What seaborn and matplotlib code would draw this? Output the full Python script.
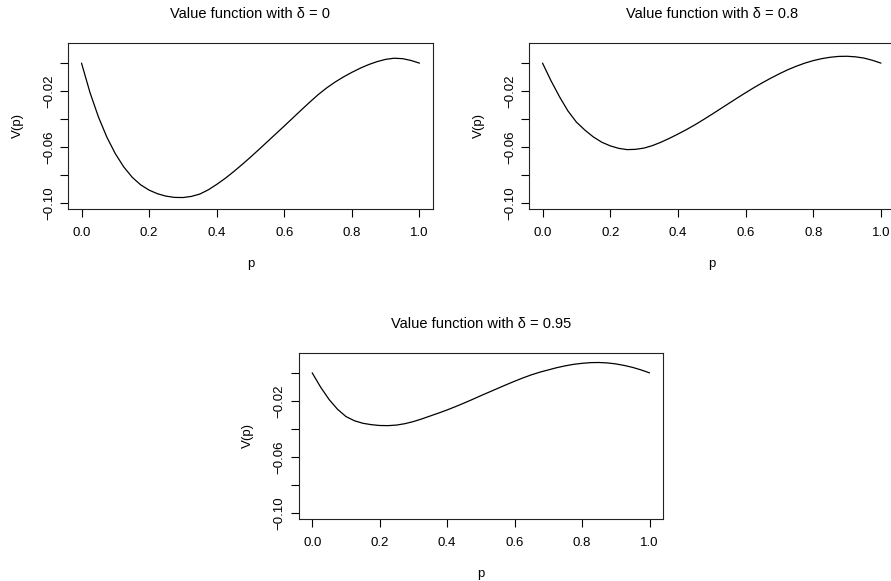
import matplotlib
matplotlib.use("Agg")
import matplotlib.pyplot as plt
import pandas as pd
import seaborn as sns

# values, p in steps of 0.025
P_GRID = [i / 40 for i in range(41)]
V_DELTA_0 = [0.0, -0.0210, -0.0385, -0.0530, -0.0648, -0.0743, -0.0817, -0.0871, -0.0909,
             -0.0935, -0.0952, -0.0961, -0.0962, -0.0954, -0.0937, -0.0907, -0.0868,
             -0.0825, -0.0777, -0.0726, -0.0673, -0.0618, -0.0562, -0.0506, -0.0450,
             -0.0393, -0.0336, -0.0280, -0.0226, -0.0178, -0.0136, -0.0099, -0.0066,
             -0.0036, -0.0010, 0.0011, 0.0027, 0.0035, 0.0032, 0.0019, 0.0]
V_DELTA_08 = [0.0, -0.0126, -0.0240, -0.0342, -0.0422, -0.0479, -0.0528, -0.0566, -0.0592,
              -0.0610, -0.0619, -0.0617, -0.0608, -0.0590, -0.0566, -0.0538, -0.0508,
              -0.0476, -0.0442, -0.0405, -0.0367, -0.0328, -0.0289, -0.0250, -0.0212,
              -0.0175, -0.0140, -0.0107, -0.0076, -0.0047, -0.0022, 0.0000, 0.0018,
              0.0032, 0.0042, 0.0048, 0.0049, 0.0045, 0.0036, 0.0020, 0.0]
V_DELTA_095 = [0.0, -0.0102, -0.0190, -0.0260, -0.0312, -0.0342, -0.0360, -0.0370, -0.0376,
               -0.0377, -0.0373, -0.0363, -0.0348, -0.0329, -0.0308, -0.0287, -0.0265,
               -0.0241, -0.0216, -0.0190, -0.0163, -0.0137, -0.0111, -0.0085, -0.0060,
               -0.0036, -0.0014, 0.0005, 0.0021, 0.0037, 0.0050, 0.0061, 0.0068,
               0.0073, 0.0074, 0.0071, 0.0064, 0.0053, 0.0039, 0.0021, 0.0]
DELTAS = ["0", "0.8", "0.95"]

X_TICKS = [0.0, 0.2, 0.4, 0.6, 0.8, 1.0]
X_TICK_LABELS = ["0.0", "0.2", "0.4", "0.6", "0.8", "1.0"]
Y_TICKS = [0.0, -0.02, -0.04, -0.06, -0.08, -0.10]
Y_TICK_LABELS = ["", "\u22120.02", "", "\u22120.06", "", "\u22120.10"]

sns.set_theme(style="white")
plt.rcParams["font.family"] = ["Liberation Sans", "DejaVu Sans"]
plt.rcParams["text.color"] = "black"
plt.rcParams["axes.labelcolor"] = "black"

W, H = 891, 581
fig = plt.figure(figsize=(W / 100, H / 100), dpi=100)

# panel boxes in pixels: left, top, right, bottom
boxes = [(68, 43, 433, 209), (529, 43, 894.5, 209), (298.7, 352.7, 663, 519)]
series = [V_DELTA_0, V_DELTA_08, V_DELTA_095]

for (l, t, r, b), vals, d in zip(boxes, series, DELTAS):
    ax = fig.add_axes([l / W, 1 - b / H, (r - l) / W, (b - t) / H])
    df = pd.DataFrame({"p": P_GRID, "V": vals})
    sns.lineplot(data=df, x="p", y="V", ax=ax, color="black", linewidth=0.9)
    ax.set_xlim(-0.04, 1.04)
    ax.set_ylim(-0.1044, 0.0144)
    ax.set_xticks(X_TICKS)
    ax.set_xticklabels(X_TICK_LABELS)
    ax.set_yticks(Y_TICKS)
    ax.set_yticklabels(Y_TICK_LABELS, rotation=90, va="center")
    ax.tick_params(axis="both", direction="out", length=5.8, width=0.8, colors="black",
                   labelsize=9.5, bottom=True, left=True)
    ax.tick_params(axis="x", pad=7)
    ax.tick_params(axis="y", pad=3.5)
    for s in ax.spines.values():
        s.set_color("#222222")
        s.set_linewidth(0.8)
    ax.set_title("Value function with \u03b4 = " + d, fontsize=10.5, pad=18)
    ax.set_xlabel("p", fontsize=9.5, labelpad=14)
    ax.set_ylabel("V(p)", fontsize=9.5, labelpad=14)

fig.savefig("out.png", dpi=100)
